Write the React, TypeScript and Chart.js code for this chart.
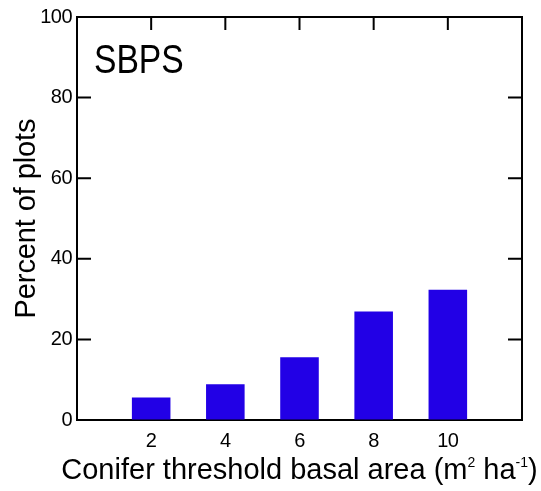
import React, { useEffect, useRef } from "react";
import { Chart, registerables } from "chart.js";

Chart.register(...registerables);

// Data: share of plots meeting each conifer basal-area threshold
const thresholds = [2, 4, 6, 8, 10];
const percentOfPlots = [5.6, 8.9, 15.6, 26.9, 32.3];
const yTickValues = [0, 20, 40, 60, 80, 100];
const xTickValues = [2, 4, 6, 8, 10];

const panelLabel = "SBPS";
const yTitle = "Percent of plots";
// x title pieces: [text, isSuperscript]
const xTitleParts: [string, boolean][] = [
  ["Conifer threshold basal area (m", false],
  ["2", true],
  [" ha", false],
  ["-1", true],
  [")", false],
];

const FONT = '"Liberation Sans", Arial, Helvetica, sans-serif';
const BAR_COLOR = "#2200e6";
const INK = "#000000";

const W = 541;
const H = 491;

const decorations = {
  id: "decorations",
  beforeDraw(chart: any) {
    chart.ctx.letterSpacing = "-0.5px";
  },
  beforeDatasetsDraw(chart: any) {
    // inward tick marks on all four sides, drawn behind the bars
    const { ctx, chartArea: a, scales } = chart;
    const x = scales.x;
    const y = scales.y;
    const len = 14;
    ctx.save();
    ctx.strokeStyle = INK;
    ctx.lineWidth = 2;
    ctx.beginPath();
    for (const v of yTickValues) {
      const py = y.getPixelForValue(v);
      ctx.moveTo(a.left, py);
      ctx.lineTo(a.left + len, py);
      ctx.moveTo(a.right, py);
      ctx.lineTo(a.right - len, py);
    }
    for (const v of xTickValues) {
      const px = x.getPixelForValue(v);
      ctx.moveTo(px, a.top);
      ctx.lineTo(px, a.top + len - 1);
      ctx.moveTo(px, a.bottom);
      ctx.lineTo(px, a.bottom - len + 1);
    }
    ctx.stroke();
    ctx.restore();
  },
  afterDraw(chart: any) {
    const { ctx, chartArea: a } = chart;
    ctx.save();
    ctx.letterSpacing = "0px";

    // top and right frame lines
    ctx.strokeStyle = INK;
    ctx.lineWidth = 2;
    ctx.beginPath();
    ctx.moveTo(a.left - 1, a.top);
    ctx.lineTo(a.right, a.top);
    ctx.lineTo(a.right, a.bottom + 1);
    ctx.stroke();

    ctx.fillStyle = INK;

    // panel label, slightly condensed
    ctx.save();
    ctx.font = `41px ${FONT}`;
    ctx.textAlign = "left";
    ctx.textBaseline = "alphabetic";
    ctx.translate(a.left + 17, a.top + 55.5);
    ctx.scale(0.82, 1);
    ctx.fillText(panelLabel, 0, 0);
    ctx.restore();

    // y axis title
    ctx.save();
    ctx.font = `29px ${FONT}`;
    ctx.letterSpacing = "-0.1px";
    ctx.textAlign = "center";
    ctx.textBaseline = "alphabetic";
    ctx.translate(35, (a.top + a.bottom) / 2);
    ctx.rotate(-Math.PI / 2);
    ctx.fillText(yTitle, 0, 0);
    ctx.restore();

    // x axis title with superscripts
    ctx.save();
    ctx.letterSpacing = "0px";
    ctx.textAlign = "left";
    ctx.textBaseline = "alphabetic";
    const mainFont = `29px ${FONT}`;
    const supFont = `14px ${FONT}`;
    let total = 0;
    const widths = xTitleParts.map(([t, sup]) => {
      ctx.font = sup ? supFont : mainFont;
      const w = ctx.measureText(t).width;
      total += w;
      return w;
    });
    let cx = (a.left + a.right) / 2 - total / 2;
    const base = 479;
    xTitleParts.forEach(([t, sup], i) => {
      ctx.font = sup ? supFont : mainFont;
      ctx.fillText(t, cx, sup ? base - 12 : base);
      cx += widths[i];
    });
    ctx.restore();

    ctx.restore();
    ctx.letterSpacing = "0px";
  },
};

export default function App() {
  const canvasRef = useRef<HTMLCanvasElement | null>(null);

  useEffect(() => {
    const canvas = canvasRef.current;
    if (!canvas) return;
    const chart = new Chart(canvas, {
      type: "bar",
      data: {
        datasets: [
          {
            data: thresholds.map((t, i) => ({ x: t, y: percentOfPlots[i] })),
            backgroundColor: BAR_COLOR,
            borderWidth: 0,
            barPercentage: 0.52,
            categoryPercentage: 1,
          },
        ],
      },
      options: {
        animation: false,
        responsive: false,
        devicePixelRatio: 1,
        layout: { padding: { top: 15, right: 19, left: 0, bottom: 0 } },
        plugins: {
          legend: { display: false },
          tooltip: { enabled: false },
          title: { display: false },
        },
        scales: {
          x: {
            type: "linear",
            min: 0,
            max: 12,
            offset: false,
            position: "bottom",
            afterBuildTicks: (s: any) => {
              s.ticks = xTickValues.map((v) => ({ value: v }));
            },
            afterFit: (s: any) => {
              s.height = 71;
            },
            ticks: {
              font: { family: FONT, size: 20 },
              color: INK,
              padding: 9,
              maxRotation: 0,
              autoSkip: false,
            },
            grid: { drawOnChartArea: false, drawTicks: false, offset: false },
            border: { color: INK, width: 2 },
          },
          y: {
            type: "linear",
            min: 0,
            max: 100,
            afterBuildTicks: (s: any) => {
              s.ticks = yTickValues.map((v) => ({ value: v }));
            },
            afterFit: (s: any) => {
              s.width = 77;
            },
            ticks: {
              font: { family: FONT, size: 20 },
              color: INK,
              padding: 5,
            },
            grid: { drawOnChartArea: false, drawTicks: false },
            border: { color: INK, width: 2 },
          },
        },
      },
      plugins: [decorations],
    });
    return () => chart.destroy();
  }, []);

  return (
    <div style={{ position: "absolute", left: 0, top: 0, width: W, height: H, background: "#fff" }}>
      <canvas ref={canvasRef} width={W} height={H} style={{ display: "block" }} />
    </div>
  );
}
